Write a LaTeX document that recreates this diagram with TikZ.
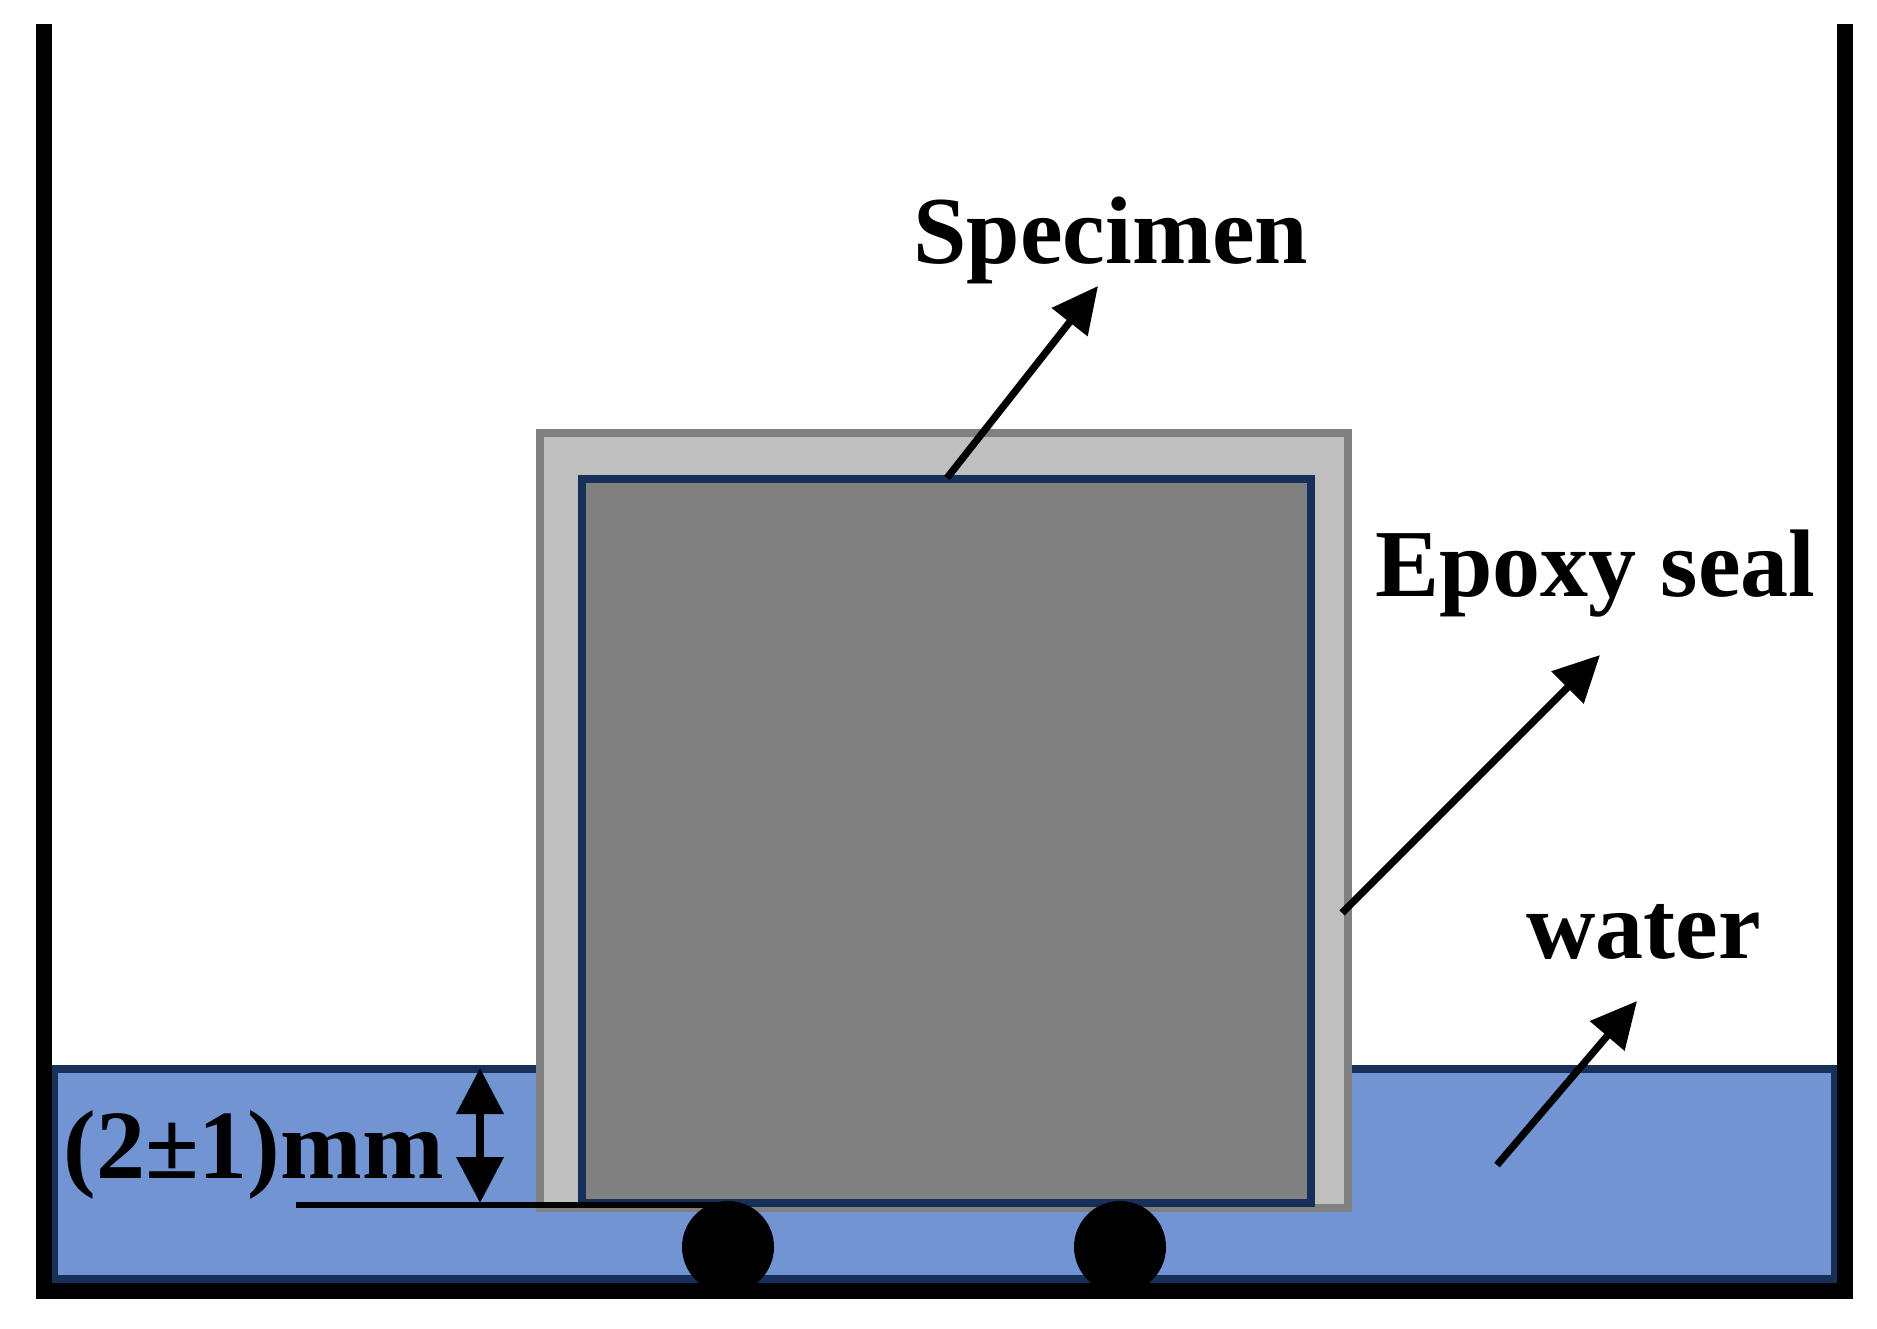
\documentclass[tikz,border=0pt]{standalone}
\usepackage{fontspec}
\setmainfont{Liberation Serif}
\usetikzlibrary{arrows.meta}
\definecolor{waterblue}{HTML}{7294D3}
\definecolor{darkedge}{HTML}{17305A}
\definecolor{sealgray}{HTML}{BFBFBF}
\definecolor{coregray}{HTML}{808080}
\tikzset{
  label/.style={anchor=base west,inner sep=0pt,font=\bfseries\fontsize{48}{50}\selectfont},
  pointer/.style={line width=3.6pt,-{Triangle[length=23pt,width=22pt]}},
  roller/.style={circle,fill=black,inner sep=0pt,minimum size=46pt}
}
\begin{document}
\begin{tikzpicture}[x=0.5pt,y=-0.5pt]
\useasboundingbox (0,0) rectangle (1877,1328);

\fill[waterblue] (54,1069) rectangle (1835,1279);
\draw[darkedge, line width=3.6pt] (54,1069) rectangle (1835,1279);

\draw[coregray, fill=sealgray, line width=4pt] (540,433) rectangle (1348,1208);
\draw[darkedge, fill=coregray, line width=4pt] (582,479) rectangle (1311,1203);

\node[roller] (rollerA) at (728,1247) {};
\node[roller] (rollerB) at (1120,1247) {};

\draw[line width=8pt] (44,24) -- (44,1291) -- (1845,1291) -- (1845,24);

\node[label] (specimen) at (913,263) {Specimen};
\node[label] (epoxy) at (1375,596) {Epoxy seal};
\node[label] (water) at (1526,958) {water};
\node[label, font=\bfseries\fontsize{49}{50}\selectfont] (gap) at (63,1178) {(2±1)mm};

\coordinate (specimenFrom) at (947,478);
\coordinate (specimenTo) at (1098,286);
\coordinate (epoxyFrom) at (1342,913);
\coordinate (epoxyTo) at (1600,655);
\coordinate (waterFrom) at (1497,1165);
\coordinate (waterTo) at (1637,1001);
\draw[pointer] (specimenFrom) -- (specimenTo);
\draw[pointer] (epoxyFrom) -- (epoxyTo);
\draw[pointer] (waterFrom) -- (waterTo);

\coordinate (gapTop) at (480,1068);
\coordinate (gapBottom) at (480,1203);
\coordinate (baseLeft) at (296,1205);
\draw[line width=3.6pt, {Triangle[length=23pt,width=23pt]}-{Triangle[length=23pt,width=23pt]}] (gapTop) -- (gapBottom);
\draw[line width=2.8pt] (baseLeft) -- (baseLeft -| rollerA);
\end{tikzpicture}
\end{document}
